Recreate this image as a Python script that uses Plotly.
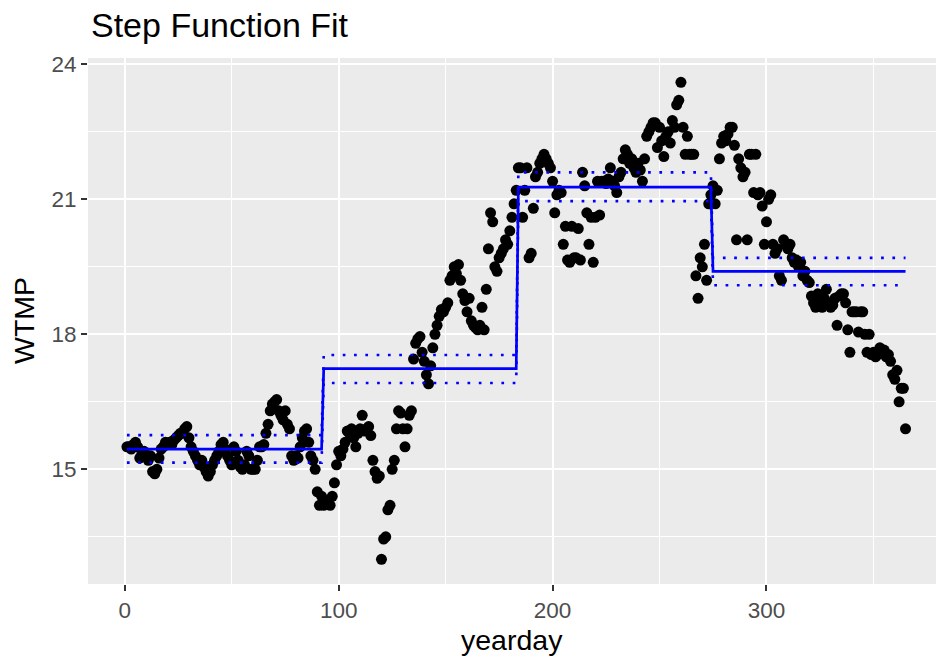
import plotly.graph_objects as go

# ---- data ----
wtmp_q1 = [15.5, 15.5, 15.45, 15.55, 15.6, 15.5, 15.25, 15.35, 15.4, 15.3,
           15.2, 15.3, 14.95, 14.9, 15.0, 15.25, 15.45, 15.5, 15.6, 15.55,
           15.6, 15.55, 15.65, 15.7, 15.75, 15.8, 15.8, 15.9, 15.95, 15.7,
           15.5, 15.4, 15.3, 15.2, 15.1, 15.2, 15.05, 14.95, 14.85, 14.95,
           15.1, 15.2, 15.3, 15.4, 15.55, 15.6, 15.45, 15.3, 15.2, 15.1,
           15.5, 15.4, 15.2, 15.05, 15.0, 15.1, 15.4, 15.3, 15.0, 15.0,
           15.0, 15.2, 15.5, 15.5, 15.55, 15.8, 16.0, 16.3, 16.45, 16.5,
           16.55, 16.3, 16.2, 16.1, 16.3, 16.0, 15.9, 15.3, 15.2, 15.3,
           15.25, 15.5, 15.7, 15.85, 15.9, 15.6, 15.3, 15.2, 15.0, 14.5]
wtmp_q2 = [14.2, 14.4, 14.2, 14.3, 14.25, 14.2, 14.4, 14.7, 15.1, 15.4,
           15.3, 15.45, 15.6, 15.85, 15.8, 15.9, 15.7, 15.5, 15.8, 15.9,
           16.2, 15.85, 15.9, 15.95, 15.75, 15.2, 14.95, 14.8, 14.85, 13.0,
           13.45, 13.5, 14.1, 14.2, 15.0, 15.2, 15.9, 16.3, 16.25, 15.9,
           15.5, 15.9, 16.2, 16.3, 17.45, 17.8, 17.9, 17.95, 17.6, 17.4,
           17.1, 16.9, 17.3, 17.7, 18.0, 18.2, 18.4, 18.55, 18.5, 18.6,
           18.7, 19.2, 19.3, 19.5, 19.35, 19.55, 19.2, 18.9, 18.75, 18.5,
           18.8, 18.3, 18.2, 18.15, 18.1, 18.2, 18.6, 18.1, 19.0, 19.9,
           20.7, 20.5, 19.5, 19.4, 19.7, 19.8, 19.9, 20.1, 20.0, 20.3]
wtmp_q3 = [20.6, 20.9, 21.2, 21.7, 21.7, 20.6, 21.2, 21.7, 19.7, 19.8,
           20.8, 21.5, 21.6, 21.8, 21.9, 22.0, 21.9, 21.8, 21.7, 21.4,
           20.7, 21.1, 21.2, 21.15, 20.0, 20.4, 19.65, 19.6, 20.4, 19.7,
           19.7, 20.35, 19.65, 21.6, 21.3, 20.7, 20.0, 20.6, 19.6, 20.6,
           21.4, 20.65, 21.4, 21.4, 21.35, 21.45, 21.7, 21.4, 21.3, 21.15,
           21.5, 21.6, 21.9, 22.1, 22.0, 21.8, 21.9, 21.7, 21.6, 21.8,
           21.65, 21.4, 21.9, 22.4, 22.5, 22.6, 22.7, 22.7, 22.15, 22.6,
           22.3, 21.95, 22.4, 22.5, 22.25, 22.75, 22.6, 23.1, 23.2, 23.6,
           22.6, 22.0, 22.4, 22.0, 22.0, 22.0, 19.3, 18.8, 19.7, 19.5]
wtmp_q4 = [20.0, 19.2, 20.9, 21.1, 21.3, 20.9, 21.2, 21.9, 22.25, 22.4,
           22.3, 22.45, 22.6, 22.6, 22.2, 20.1, 21.9, 21.7, 21.5, 21.6,
           20.1, 22.0, 22.0, 21.15, 22.0, 21.1, 21.15, 20.85, 20.0, 20.5,
           21.0, 21.1, 20.0, 19.8, 19.9, 19.3, 19.2, 20.1, 20.0, 19.9,
           20.0, 19.7, 19.6, 19.65, 19.5, 19.6, 19.3, 19.4, 19.2, 19.15,
           18.85, 18.7, 18.6, 18.9, 18.75, 18.6, 18.8, 19.0, 18.7, 18.6,
           18.65, 18.8, 18.2, 18.85, 18.9, 18.9, 18.7, 18.1, 17.6, 18.5,
           18.5, 18.5, 18.05, 18.5, 18.5, 18.0, 17.6, 18.0, 17.55, 17.6,
           17.5, 17.55, 17.7, 17.6, 17.65, 17.5, 17.55, 17.4, 17.1, 17.0,
           17.2, 16.5, 16.8, 16.8, 15.9]

wtmp = wtmp_q1 + wtmp_q2 + wtmp_q3 + wtmp_q4
yearday = list(range(1, len(wtmp) + 1))

# step function fit: segment boundaries (first/last day) and levels
seg_start = [1, 93, 184, 275]
seg_end = [92, 183, 274, 365]
fit_level = [15.45, 17.24, 21.27, 19.40]
fit_lower = [15.15, 16.92, 20.96, 19.09]
fit_upper = [15.76, 17.54, 21.60, 19.70]


def step(levels):
    xs, ys = [], []
    for s, e, v in zip(seg_start, seg_end, levels):
        xs += [s, e]
        ys += [v, v]
    return xs, ys


FONT = "Liberation Sans, Arial, Helvetica, sans-serif"
BLUE = "#0000FF"

fig = go.Figure()
fig.add_trace(go.Scatter(x=yearday, y=wtmp, mode="markers",
                         marker=dict(color="black", size=11, line=dict(width=0)),
                         hoverinfo="x+y", showlegend=False))
fx, fy = step(fit_level)
fig.add_trace(go.Scatter(x=fx, y=fy, mode="lines",
                         line=dict(color=BLUE, width=2.7), showlegend=False))
for lv in (fit_upper, fit_lower):
    lx, ly = step(lv)
    fig.add_trace(go.Scatter(x=lx, y=ly, mode="lines",
                             line=dict(color=BLUE, width=2.6, dash="2.7px,8.6px"),
                             showlegend=False))

L, R, T, B = 88, 0, 58, 77
W, H = 936, 661
ph = H - T - B
pw = W - L - R


def py(p):
    return (H - B - p) / ph


def px(p):
    return (p - L) / pw


fig.update_layout(
    width=W, height=H,
    margin=dict(l=L, r=R, t=T, b=B, pad=0),
    paper_bgcolor="white", plot_bgcolor="#EBEBEB",
    font=dict(family=FONT, color="#4D4D4D"),
    showlegend=False,
    xaxis=dict(range=[-17.2, -17.2 + pw / 2.139], tickvals=[0, 100, 200, 300],
               showgrid=True, gridcolor="white", gridwidth=2.2,
               zeroline=False, showline=False,
               ticks="outside", ticklen=6, tickwidth=2, tickcolor="#333333",
               tickfont=dict(size=22.5, color="#4D4D4D", family=FONT),
               minor=dict(tickvals=[50, 150, 250, 350], showgrid=True,
                          gridcolor="white", gridwidth=1.1, ticks=""),
               automargin=False, fixedrange=True),
    yaxis=dict(range=[12.452, 12.452 + ph / 45.0], tickvals=[15, 18, 21, 24],
               showgrid=True, gridcolor="white", gridwidth=2.2,
               zeroline=False, showline=False,
               ticks="outside", ticklen=6, tickwidth=2, tickcolor="#333333",
               tickfont=dict(size=22.5, color="#4D4D4D", family=FONT),
               minor=dict(tickvals=[13.5, 16.5, 19.5, 22.5], showgrid=True,
                          gridcolor="white", gridwidth=1.1, ticks=""),
               automargin=False, fixedrange=True),
    annotations=[
        dict(text="Step Function Fit", xref="paper", yref="paper",
             x=px(89), y=py(25), xanchor="left", yanchor="middle",
             showarrow=False, font=dict(size=34, color="black", family=FONT)),
        dict(text="yearday", xref="paper", yref="paper",
             x=0.5, y=py(640), xanchor="center", yanchor="middle",
             showarrow=False, font=dict(size=28.5, color="black", family=FONT)),
        dict(text="WTMP", xref="paper", yref="paper", textangle=-90,
             x=px(24), y=0.5, xanchor="center", yanchor="middle",
             showarrow=False, font=dict(size=28.5, color="black", family=FONT)),
    ],
)

fig.write_html("out.html")
